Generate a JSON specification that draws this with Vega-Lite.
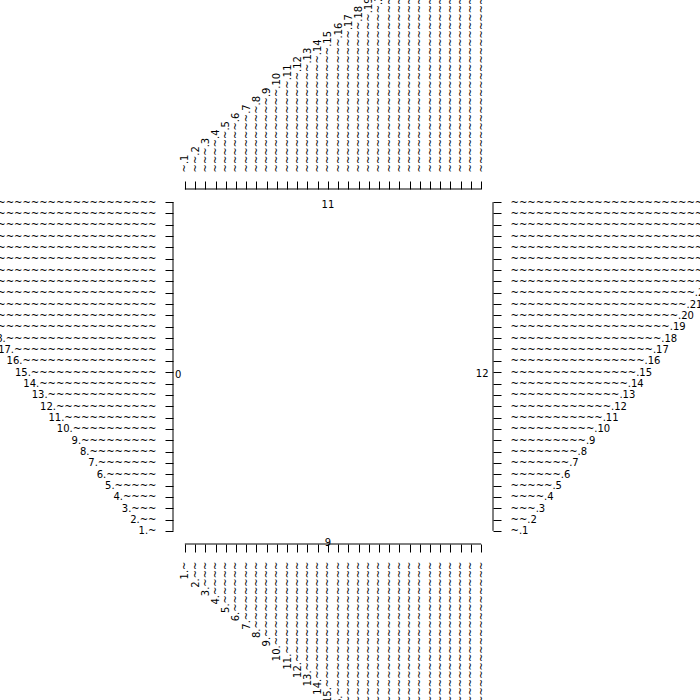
{
  "$schema": "https://vega.github.io/schema/vega-lite/v6.json",
  "autosize": {"type": "none"},
  "padding": {"left": 173, "top": 189, "right": 207, "bottom": 156},
  "width": 320,
  "height": 355,
  "background": "white",
  "datasets": {
    "ticks": [
      {"n": 1}, {"n": 2}, {"n": 3}, {"n": 4}, {"n": 5}, {"n": 6}, {"n": 7}, {"n": 8}, {"n": 9}, {"n": 10},
      {"n": 11}, {"n": 12}, {"n": 13}, {"n": 14}, {"n": 15}, {"n": 16}, {"n": 17}, {"n": 18}, {"n": 19}, {"n": 20},
      {"n": 21}, {"n": 22}, {"n": 23}, {"n": 24}, {"n": 25}, {"n": 26}, {"n": 27}, {"n": 28}, {"n": 29}, {"n": 30}
    ],
    "sides": [
      {"side": "top", "label": "11"},
      {"side": "left", "label": "0"},
      {"side": "right", "label": "12"},
      {"side": "bottom", "label": "9"}
    ]
  },
  "config": {
    "view": {"stroke": null},
    "font": "DejaVu Sans",
    "text": {"font": "DejaVu Sans", "fontSize": 10, "color": "black"},
    "axis": {
      "domain": false,
      "grid": false,
      "ticks": true,
      "tickColor": "black",
      "tickSize": 8,
      "tickWidth": 1,
      "labelFont": "DejaVu Sans",
      "labelFontSize": 10,
      "labelColor": "black",
      "labelPadding": 9,
      "labelLimit": 3000,
      "labelOverlap": false,
      "labelBound": false,
      "labelFlush": false,
      "title": null
    }
  },
  "resolve": {"axis": {"x": "independent", "y": "independent"}},
  "layer": [
    {
      "data": {"name": "ticks"},
      "mark": {"type": "point", "opacity": 0},
      "encoding": {
        "x": {
          "field": "n", "type": "quantitative",
          "scale": {"domain": [-0.16, 31.16], "nice": false, "zero": false},
          "axis": {
            "orient": "bottom",
            "values": [1,2,3,4,5,6,7,8,9,10,11,12,13,14,15,16,17,18,19,20,21,22,23,24,25,26,27,28,29,30],
            "labelAngle": 270, "labelAlign": "right", "labelBaseline": "middle",
            "labelExpr": "pad(datum.value + '.', length(datum.value + '.') + datum.value, '~', 'right')",
            "encoding": {"labels": {"update": {"blend": {"value": "multiply"}}}}
          }
        },
        "y": {
          "field": "n", "type": "quantitative",
          "scale": {"domain": [-0.16, 31.16], "nice": false, "zero": false},
          "axis": {
            "orient": "left",
            "values": [1,2,3,4,5,6,7,8,9,10,11,12,13,14,15,16,17,18,19,20,21,22,23,24,25,26,27,28,29,30],
            "labelAlign": "right", "labelBaseline": "middle",
            "labelExpr": "pad(datum.value + '.', length(datum.value + '.') + datum.value, '~', 'right')"
          }
        }
      }
    },
    {
      "data": {"name": "ticks"},
      "mark": {"type": "point", "opacity": 0},
      "encoding": {
        "x": {
          "field": "n", "type": "quantitative",
          "scale": {"domain": [-0.16, 31.16], "nice": false, "zero": false},
          "axis": {
            "orient": "top",
            "values": [1,2,3,4,5,6,7,8,9,10,11,12,13,14,15,16,17,18,19,20,21,22,23,24,25,26,27,28,29,30],
            "labelAngle": 270, "labelAlign": "left", "labelBaseline": "middle",
            "labelExpr": "pad('.' + datum.value, length('.' + datum.value) + datum.value, '~', 'left')",
            "encoding": {"labels": {"update": {"blend": {"value": "multiply"}}}}
          }
        },
        "y": {
          "field": "n", "type": "quantitative",
          "scale": {"domain": [-0.16, 31.16], "nice": false, "zero": false},
          "axis": {
            "orient": "right",
            "values": [1,2,3,4,5,6,7,8,9,10,11,12,13,14,15,16,17,18,19,20,21,22,23,24,25,26,27,28,29,30],
            "labelAlign": "left", "labelBaseline": "middle",
            "labelExpr": "pad('.' + datum.value, length('.' + datum.value) + datum.value, '~', 'left')"
          }
        }
      }
    },
    {
      "data": {"name": "sides"},
      "transform": [{"filter": "datum.side == 'bottom'"}],
      "mark": {"type": "rule", "color": "black", "strokeWidth": 1},
      "encoding": {"x": {"datum": 1, "axis": null}, "x2": {"datum": 30}, "y": {"datum": -0.16, "axis": null}}
    },
    {
      "data": {"name": "sides"},
      "transform": [{"filter": "datum.side == 'top'"}],
      "mark": {"type": "rule", "color": "black", "strokeWidth": 1},
      "encoding": {"x": {"datum": 1, "axis": null}, "x2": {"datum": 30}, "y": {"datum": 31.16, "axis": null}}
    },
    {
      "data": {"name": "sides"},
      "transform": [{"filter": "datum.side == 'left'"}],
      "mark": {"type": "rule", "color": "black", "strokeWidth": 1},
      "encoding": {"y": {"datum": 1, "axis": null}, "y2": {"datum": 30}, "x": {"datum": -0.16, "axis": null}}
    },
    {
      "data": {"name": "sides"},
      "transform": [{"filter": "datum.side == 'right'"}],
      "mark": {"type": "rule", "color": "black", "strokeWidth": 1},
      "encoding": {"y": {"datum": 1, "axis": null}, "y2": {"datum": 30}, "x": {"datum": 31.16, "axis": null}}
    },
    {
      "data": {"name": "sides"},
      "transform": [{"filter": "datum.side == 'top'"}],
      "mark": {"type": "text", "align": "center", "baseline": "alphabetic", "dy": 18.5},
      "encoding": {"text": {"field": "label"}, "x": {"datum": 15, "axis": null}, "y": {"datum": 31.16, "axis": null}}
    },
    {
      "data": {"name": "sides"},
      "transform": [{"filter": "datum.side == 'bottom'"}],
      "mark": {"type": "text", "align": "center", "baseline": "alphabetic", "dy": 2},
      "encoding": {"text": {"field": "label"}, "x": {"datum": 15, "axis": null}, "y": {"datum": -0.16, "axis": null}}
    },
    {
      "data": {"name": "sides"},
      "transform": [{"filter": "datum.side == 'left'"}],
      "mark": {"type": "text", "align": "left", "baseline": "alphabetic", "dx": 2, "dy": 6},
      "encoding": {"text": {"field": "label"}, "x": {"datum": -0.16, "axis": null}, "y": {"datum": 15, "axis": null}}
    },
    {
      "data": {"name": "sides"},
      "transform": [{"filter": "datum.side == 'right'"}],
      "mark": {"type": "text", "align": "right", "baseline": "alphabetic", "dx": -4.5, "dy": 5},
      "encoding": {"text": {"field": "label"}, "x": {"datum": 31.16, "axis": null}, "y": {"datum": 15, "axis": null}}
    }
  ]
}
